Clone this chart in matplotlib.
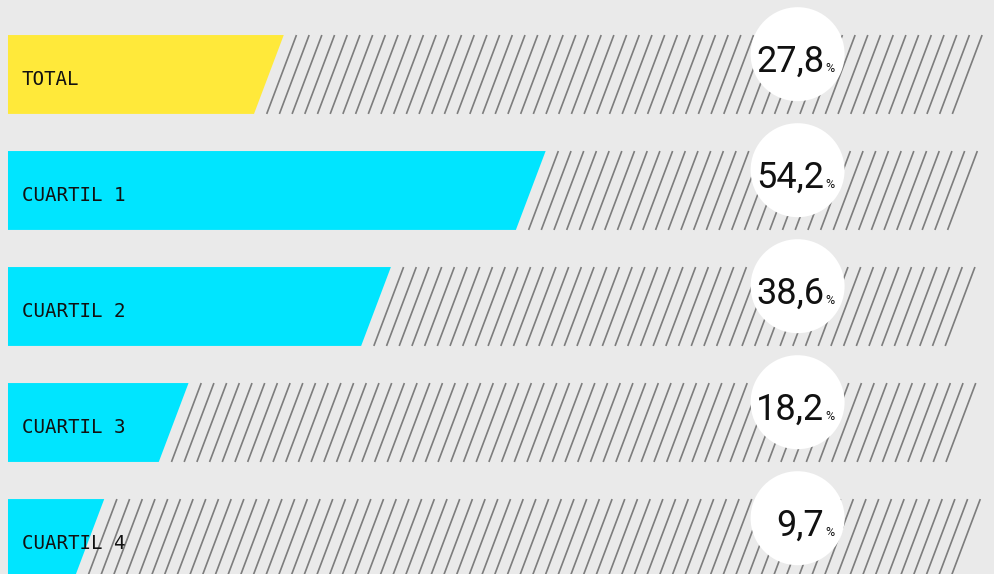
import matplotlib
matplotlib.use("Agg")
import matplotlib.pyplot as plt
from matplotlib.patches import Polygon
import numpy as np

# data
labels = ["TOTAL", "CUARTIL 1", "CUARTIL 2", "CUARTIL 3", "CUARTIL 4"]
values = [27.8, 54.2, 38.6, 18.2, 9.7]
colors = ["#ffe93a", "#00e5ff", "#00e5ff", "#00e5ff", "#00e5ff"]

bg = "#eaeaea"
bar_h = 0.68      # row height (row spacing = 1)
slant = 3.0       # horizontal offset of the slanted edge
hatch_end = 98.5
hatch_step = 1.28
circle_x = 79.6

fig = plt.figure(figsize=(9.94, 5.74), dpi=100)
fig.patch.set_facecolor(bg)
ax = fig.add_axes([0, 0, 1, 1])
ax.set_facecolor(bg)
ax.set_xlim(-0.806, 99.4)
ax.set_ylim(4.306, -0.642)
ax.axis("off")

for i, (lab, v, c) in enumerate(zip(labels, values, colors)):
    top = i - bar_h / 2
    bot = i + bar_h / 2
    # bar as parallelogram with slanted right edge
    poly = Polygon([(0, top), (v, top), (v - slant, bot), (0, bot)],
                   closed=True, facecolor=c, edgecolor="none", zorder=2)
    ax.add_patch(poly)

    # hatch lines filling the rest of the row
    x = v + hatch_step
    while x <= hatch_end:
        ax.plot([x, x - slant], [top, bot], color="#7d7d7d", lw=1.2,
                solid_capstyle="butt", zorder=1)
        x += hatch_step

    ax.text(1.4, i + 0.04, lab, fontsize=13.8, family="DejaVu Sans Mono",
            va="center", ha="left", color="#111111", zorder=3)

    # white circle with the value
    ax.scatter([circle_x], [i - 0.175], s=4580, color="white",
               edgecolors="none", zorder=4)
    txt = f"{v:.1f}".replace(".", ",")
    ax.text(circle_x + 2.7, i - 0.175 + 0.15, txt, fontsize=26,
            family="Roboto", fontweight="normal",
            ha="right", va="baseline", color="#111111", zorder=5)
    ax.text(circle_x + 2.8, i - 0.175 + 0.15, "%", fontsize=9,
            family="Roboto", fontweight="normal",
            ha="left", va="baseline", color="#111111", zorder=5)

fig.savefig("out.png", dpi=100, facecolor=bg)
